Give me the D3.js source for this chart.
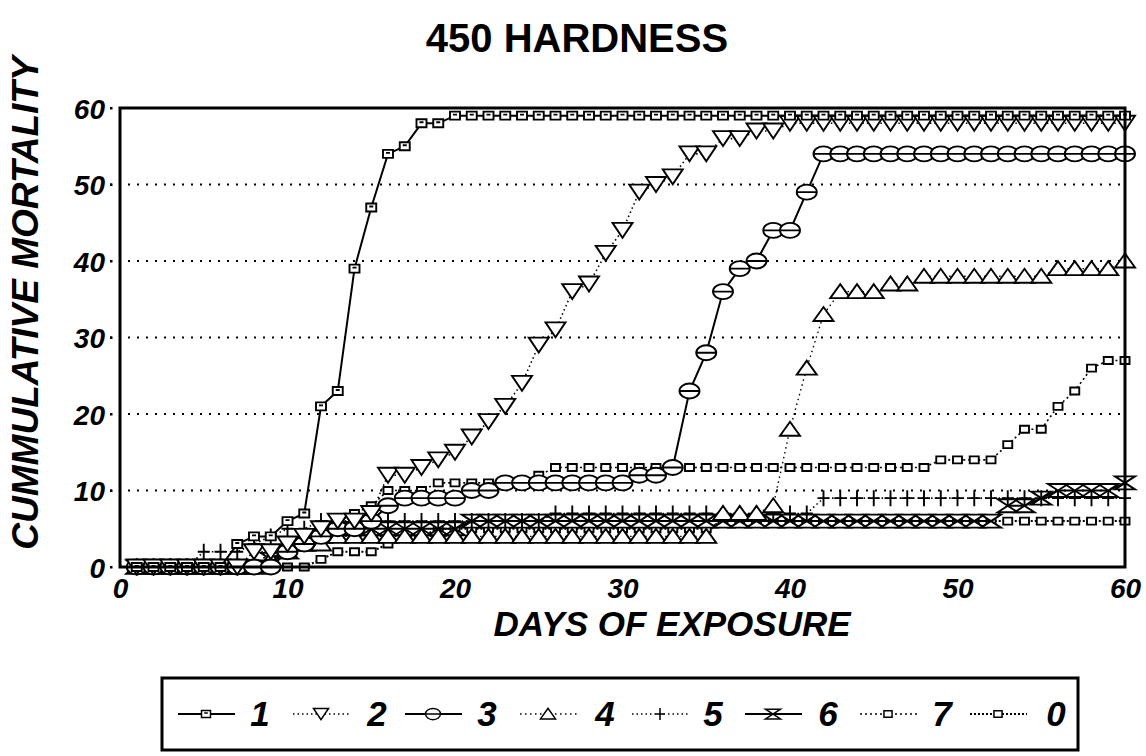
<!DOCTYPE html>
<html>
<head>
<meta charset="utf-8">
<script src="https://cdn.jsdelivr.net/npm/d3@7"></script>
<style>
  html, body { margin: 0; padding: 0; background: #fff; }
  svg { display: block; }
  text { font-family: "Liberation Sans", Arial, sans-serif; fill: #000; }
</style>
</head>
<body>
<svg id="chart" width="1146" height="756"></svg>
<script>
// ---------------- DATA ----------------
const title = "450 HARDNESS";
const xTitle = "DAYS OF EXPOSURE";
const yTitle = "CUMMULATIVE MORTALITY";
const xTicks = [0, 10, 20, 30, 40, 50, 60];
const yTicks = [0, 10, 20, 30, 40, 50, 60];
const seriesNames = ["1", "2", "3", "4", "5", "6", "7", "0"];
const days = d3.range(1, 61);

const s1 = [0,0,0,0,0,0,3,4,4,6, 7,21,23,39,47,54,55,58,58,59, 59,59,59,59,59,59,59,59,59,59, 59,59,59,59,59,59,59,59,59,59, 59,59,59,59,59,59,59,59,59,59, 59,59,59,59,59,59,59,59,59,59];
const s2 = [0,0,0,0,0,0,0,2,2,3, 4,5,6,6,7,12,12,13,14,15, 17,19,21,24,29,31,36,37,41,44, 49,50,51,54,54,56,56,57,57,58, 58,58,58,58,58,58,58,58,58,58, 58,58,58,58,58,58,58,58,58,58];
const s3 = [0,0,0,0,0,0,0,0,0,2, 3,4,5,5,6,8,9,9,9,9, 10,10,11,11,11,11,11,11,11,11, 12,12,13,23,28,36,39,40,44,44, 49,54,54,54,54,54,54,54,54,54, 54,54,54,54,54,54,54,54,54,54];
const s4 = [0,0,0,0,0,0,0,0,1,2, 3,3,4,4,4,4,4,4,4,4, 4,4,4,4,4,4,4,4,4,4, 4,4,4,4,4,7,7,7,8,18, 26,33,36,36,36,37,37,38,38,38, 38,38,38,38,38,39,39,39,39,40];
const s5 = [0,0,0,0,2,2,2,3,4,5, 5,6,6,6,6,6,6,6,6,6, 6,6,6,6,6,7,7,7,7,7, 7,7,7,7,7,7,7,7,7,7, 7,9,9,9,9,9,9,9,9,9, 9,9,9,9,9,9,9,9,9,9];
const s6 = [0,0,0,0,0,0,0,0,1,2, 3,4,5,5,5,5,5,5,5,5, 6,6,6,6,6,6,6,6,6,6, 6,6,6,6,6,6,6,6,6,6, 6,6,6,6,6,6,6,6,6,6, 6,6,8,8,9,10,10,10,10,11];
const s7 = [0,0,0,0,0,0,0,0,2,3, 4,5,6,7,8,10,10,10,11,11, 11,11,11,11,12,13,13,13,13,13, 13,13,13,13,13,13,13,13,13,13, 13,13,13,13,13,13,13,13,14,14, 14,14,16,18,18,21,23,26,27,27];
const s0 = [0,0,0,0,0,0,0,0,0,0, 0,1,2,2,2,3,4,4,5,5, 5,5,5,5,5,5,5,5,5,5, 5,5,5,5,5,6,6,6,6,6, 6,6,6,6,6,6,6,6,6,6, 6,6,6,6,6,6,6,6,6,6];

const seriesValues = [s1, s2, s3, s4, s5, s6, s7, s0];
const seriesMarkers = ["square", "tdown", "ellipse", "tup", "plus", "bowtie", "smallsq", "smallsq"];
const seriesDash = [null, "1.5,3", null, "1.5,3.5", "1.5,3", null, "2,3", "2,2"];
const seriesWidth = [2, 1.6, 2, 1.4, 1.6, 2, 1.6, 2];

// ---------------- LAYOUT ----------------
const svg = d3.select("#chart");
svg.append("rect").attr("width", 1146).attr("height", 756).attr("fill", "#fff");

const x = d3.scaleLinear().domain([0, 60]).range([120, 1125]);
const y = d3.scaleLinear().domain([0, 60]).range([567, 108]);

// gridlines
const grid = svg.append("g");
grid.selectAll("line").data(yTicks.filter(v => v > 0 && v < 60)).join("line")
  .attr("x1", 110).attr("x2", 1125)
  .attr("y1", d => y(d)).attr("y2", d => y(d))
  .attr("stroke", "#000").attr("stroke-width", 2.2)
  .attr("stroke-dasharray", "2,7").attr("stroke-linecap", "butt");
grid.selectAll("rect.tk").data(yTicks).join("rect").attr("class", "tk")
  .attr("x", 110).attr("y", d => y(d) - 1).attr("width", 2.5).attr("height", 2.5).attr("fill", "#000");

// axes labels via d3 axes
const yAxis = svg.append("g").attr("transform", "translate(105,0)")
  .call(d3.axisLeft(y).tickValues(yTicks).tickSize(0).tickPadding(0).tickFormat(d3.format("d")));
yAxis.select(".domain").remove();
yAxis.selectAll("text").attr("font-size", 28).attr("font-weight", "bold").attr("font-style", "italic")
  .attr("font-family", "'Liberation Sans', Arial, sans-serif").attr("fill", "#000").attr("dy", "0.36em");

const xAxis = svg.append("g").attr("transform", "translate(0,578)")
  .call(d3.axisBottom(x).tickValues(xTicks).tickSize(0).tickPadding(0).tickFormat(d3.format("d")));
xAxis.select(".domain").remove();
xAxis.selectAll("text").attr("font-size", 28).attr("font-weight", "bold").attr("font-style", "italic")
  .attr("font-family", "'Liberation Sans', Arial, sans-serif").attr("fill", "#000").attr("dy", "0.71em");

// titles
svg.append("text").attr("x", 577).attr("y", 52).attr("text-anchor", "middle")
  .attr("font-size", 40).attr("font-weight", "bold").text(title);
svg.append("text").attr("x", 672).attr("y", 636).attr("text-anchor", "middle")
  .attr("font-size", 35).attr("font-weight", "bold").attr("font-style", "italic").text(xTitle);
svg.append("text").attr("transform", "translate(38,303) rotate(-90)").attr("text-anchor", "middle")
  .attr("font-size", 37).attr("font-weight", "bold").attr("font-style", "italic").text(yTitle);

// ---------------- MARKERS ----------------
function markerPath(type, s) {
  s = s || 1;
  switch (type) {
    case "square": return `M${-5*s},${-4*s}H${5*s}V${4*s}H${-5*s}Z M${-2*s},${-1*s}H${2*s}`;
    case "smallsq": return `M${-4.5*s},${-3.5*s}H${4.5*s}V${3.5*s}H${-4.5*s}Z`;
    case "tdown": return `M${-10*s},${-7.5*s}H${10*s}L0,${7.5*s}Z`;
    case "tup": return `M${-10*s},${6.5*s}H${10*s}L0,${-7.5*s}Z`;
    case "ellipse": return `M${-10*s},0A${10*s},${7.5*s} 0 1,0 ${10*s},0A${10*s},${7.5*s} 0 1,0 ${-10*s},0Z M${-10*s},0H${10*s}`;
    case "plus": return `M0,${-8*s}V${8*s} M${-6*s},0H${6*s}`;
    case "bowtie": return `M${-10*s},${-6.5*s}H${10*s}L${-10*s},${6.5*s}H${10*s}Z`;
  }
}

const plot = svg.append("g");
const line = d3.line().x(d => x(d[0])).y(d => y(d[1]));

for (let i = seriesValues.length - 1; i >= 0; i--) {
  const pts = days.map((d, k) => [d, seriesValues[i][k]]);
  const g = plot.append("g");
  g.append("path").attr("d", line(pts)).attr("fill", "none").attr("stroke", "#000")
    .attr("stroke-width", seriesWidth[i]).attr("stroke-dasharray", seriesDash[i]);
  g.selectAll("path.m").data(pts).join("path").attr("class", "m")
    .attr("transform", d => `translate(${x(d[0])},${y(d[1])})`)
    .attr("d", markerPath(seriesMarkers[i]))
    .attr("fill", "#fff").attr("stroke", "#000").attr("stroke-width", 1.9);
}

// frame
svg.append("rect").attr("x", 120).attr("y", 108).attr("width", 1005).attr("height", 459)
  .attr("fill", "none").attr("stroke", "#000").attr("stroke-width", 3);

// ---------------- LEGEND ----------------
const lg = svg.append("g");
lg.append("rect").attr("x", 162).attr("y", 678).attr("width", 916).attr("height", 72)
  .attr("fill", "#fff").attr("stroke", "#000").attr("stroke-width", 3);
const legendX = [178, 293, 405, 520, 632, 745, 860, 970];
const legendNumX = [260, 377, 487, 605, 713, 828, 942, 1056];
seriesNames.forEach((name, i) => {
  const lx = legendX[i], ly = 714;
  lg.append("line").attr("x1", lx).attr("x2", lx + 57).attr("y1", ly).attr("y2", ly)
    .attr("stroke", "#000").attr("stroke-width", seriesWidth[i]).attr("stroke-dasharray", seriesDash[i]);
  const sc = (seriesMarkers[i] === "square" || seriesMarkers[i] === "smallsq") ? 0.9 : 0.75;
  lg.append("path").attr("transform", `translate(${lx + 28},${ly})`)
    .attr("d", markerPath(seriesMarkers[i], sc)).attr("fill", "#fff").attr("stroke", "#000").attr("stroke-width", 1.5);
  lg.append("text").attr("x", legendNumX[i]).attr("y", ly + 12).attr("text-anchor", "middle")
    .attr("font-size", 35).attr("font-weight", "bold").attr("font-style", "italic").text(name);
});
</script>
</body>
</html>
